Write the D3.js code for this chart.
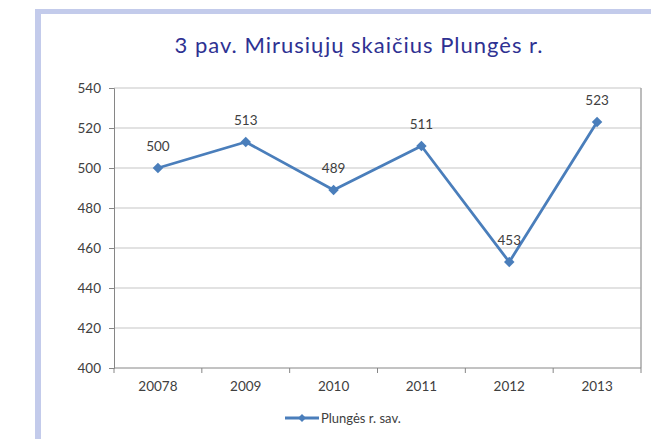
<!DOCTYPE html>
<html>
<head>
<meta charset="utf-8">
<script src="https://cdn.jsdelivr.net/npm/d3@7"></script>
<style>
  body { margin: 0; background: #fff; }
  svg { display: block; }
</style>
</head>
<body>
<svg id="chart" width="651" height="439"></svg>
<script>
// data
const years = ["20078", "2009", "2010", "2011", "2012", "2013"];
const deaths = [500, 513, 489, 511, 453, 523];
const yTicks = [400, 420, 440, 460, 480, 500, 520, 540];
const seriesName = "Plungės r. sav.";
const titleText = "3 pav. Mirusiųjų skaičius Plungės r.";

const svg = d3.select("#chart");
const W = 651, H = 439;
const margin = { top: 88, right: 10, bottom: 71, left: 114 };
const plotW = W - margin.left - margin.right; // 527
const plotH = H - margin.top - margin.bottom; // 280

const lineColor = "#4a7ebb";
const textColor = "#404040";
const font = "Lato, 'Open Sans', sans-serif";

// frame
svg.append("rect")
  .attr("x", 35).attr("y", 9)
  .attr("width", 6).attr("height", H - 9)
  .attr("fill", "#c3cbeb");
svg.append("rect")
  .attr("x", 35).attr("y", 9)
  .attr("width", W - 35).attr("height", 5)
  .attr("fill", "#c3cbeb");

// title
svg.append("text")
  .attr("x", 359).attr("y", 53)
  .attr("text-anchor", "middle")
  .attr("font-family", font)
  .attr("font-size", 22)
  .attr("letter-spacing", 1)
  .attr("fill", "#2e3192")
  .text(titleText);

const g = svg.append("g")
  .attr("transform", `translate(${margin.left},${margin.top})`);

const x = d3.scaleBand().domain(years).range([0, plotW]);
const y = d3.scaleLinear().domain([400, 540]).range([plotH, 0]);

// gridlines
g.selectAll(".grid")
  .data(yTicks.filter(d => d > 400))
  .enter()
  .append("line")
  .attr("x1", 0).attr("x2", plotW)
  .attr("y1", d => y(d)).attr("y2", d => y(d))
  .attr("stroke", "#d9d9d9")
  .attr("stroke-width", 1.5);

// right border of plot
g.append("line")
  .attr("x1", plotW).attr("x2", plotW)
  .attr("y1", 0).attr("y2", plotH)
  .attr("stroke", "#a6a6a6")
  .attr("stroke-width", 1.5);

// y axis
const yAxis = g.append("g")
  .call(d3.axisLeft(y).tickValues(yTicks).tickSize(5).tickPadding(8));
yAxis.select(".domain").attr("stroke", "#868686");
yAxis.selectAll(".tick line").attr("stroke", "#868686");
yAxis.selectAll("text")
  .attr("font-family", font)
  .attr("font-size", 13.5)
  .attr("fill", textColor);

// x axis: ticks at band boundaries
const xAxisG = g.append("g").attr("transform", `translate(0,${plotH})`);
xAxisG.append("line")
  .attr("x1", 0).attr("x2", plotW)
  .attr("stroke", "#868686");
const bounds = years.map(d => x(d)).concat([plotW]);
xAxisG.selectAll(".xtick")
  .data(bounds)
  .enter()
  .append("line")
  .attr("x1", d => d).attr("x2", d => d)
  .attr("y1", 0).attr("y2", 5)
  .attr("stroke", "#868686");
xAxisG.selectAll(".xlabel")
  .data(years)
  .enter()
  .append("text")
  .attr("x", d => x(d) + x.bandwidth() / 2)
  .attr("y", 23)
  .attr("text-anchor", "middle")
  .attr("font-family", font)
  .attr("font-size", 13.5)
  .attr("fill", textColor)
  .text(d => d);

// line
const pts = years.map((d, i) => ({ year: d, value: deaths[i] }));
const line = d3.line()
  .x(d => x(d.year) + x.bandwidth() / 2)
  .y(d => y(d.value));

g.append("path")
  .datum(pts)
  .attr("fill", "none")
  .attr("stroke", lineColor)
  .attr("stroke-width", 2.8)
  .attr("stroke-linejoin", "round")
  .attr("d", line);

const diamond = d3.symbol().type(d3.symbolDiamond2).size(70);
g.selectAll(".pt")
  .data(pts)
  .enter()
  .append("path")
  .attr("transform", d => `translate(${x(d.year) + x.bandwidth() / 2},${y(d.value)})`)
  .attr("d", diamond)
  .attr("fill", lineColor);

// labels
g.selectAll(".lbl")
  .data(pts)
  .enter()
  .append("text")
  .attr("x", d => x(d.year) + x.bandwidth() / 2)
  .attr("y", d => y(d.value) - 17)
  .attr("text-anchor", "middle")
  .attr("font-family", font)
  .attr("font-size", 13.5)
  .attr("fill", textColor)
  .text(d => d.value);

// legend
const lg = svg.append("g").attr("transform", "translate(285,418)");
lg.append("line")
  .attr("x1", 0).attr("x2", 34)
  .attr("stroke", lineColor).attr("stroke-width", 2.8);
lg.append("path")
  .attr("transform", "translate(17,0)")
  .attr("d", d3.symbol().type(d3.symbolDiamond2).size(40))
  .attr("fill", lineColor);
lg.append("text")
  .attr("x", 36).attr("y", 4.5)
  .attr("font-family", font)
  .attr("font-size", 13)
  .attr("fill", textColor)
  .text(seriesName);
</script>
</body>
</html>
